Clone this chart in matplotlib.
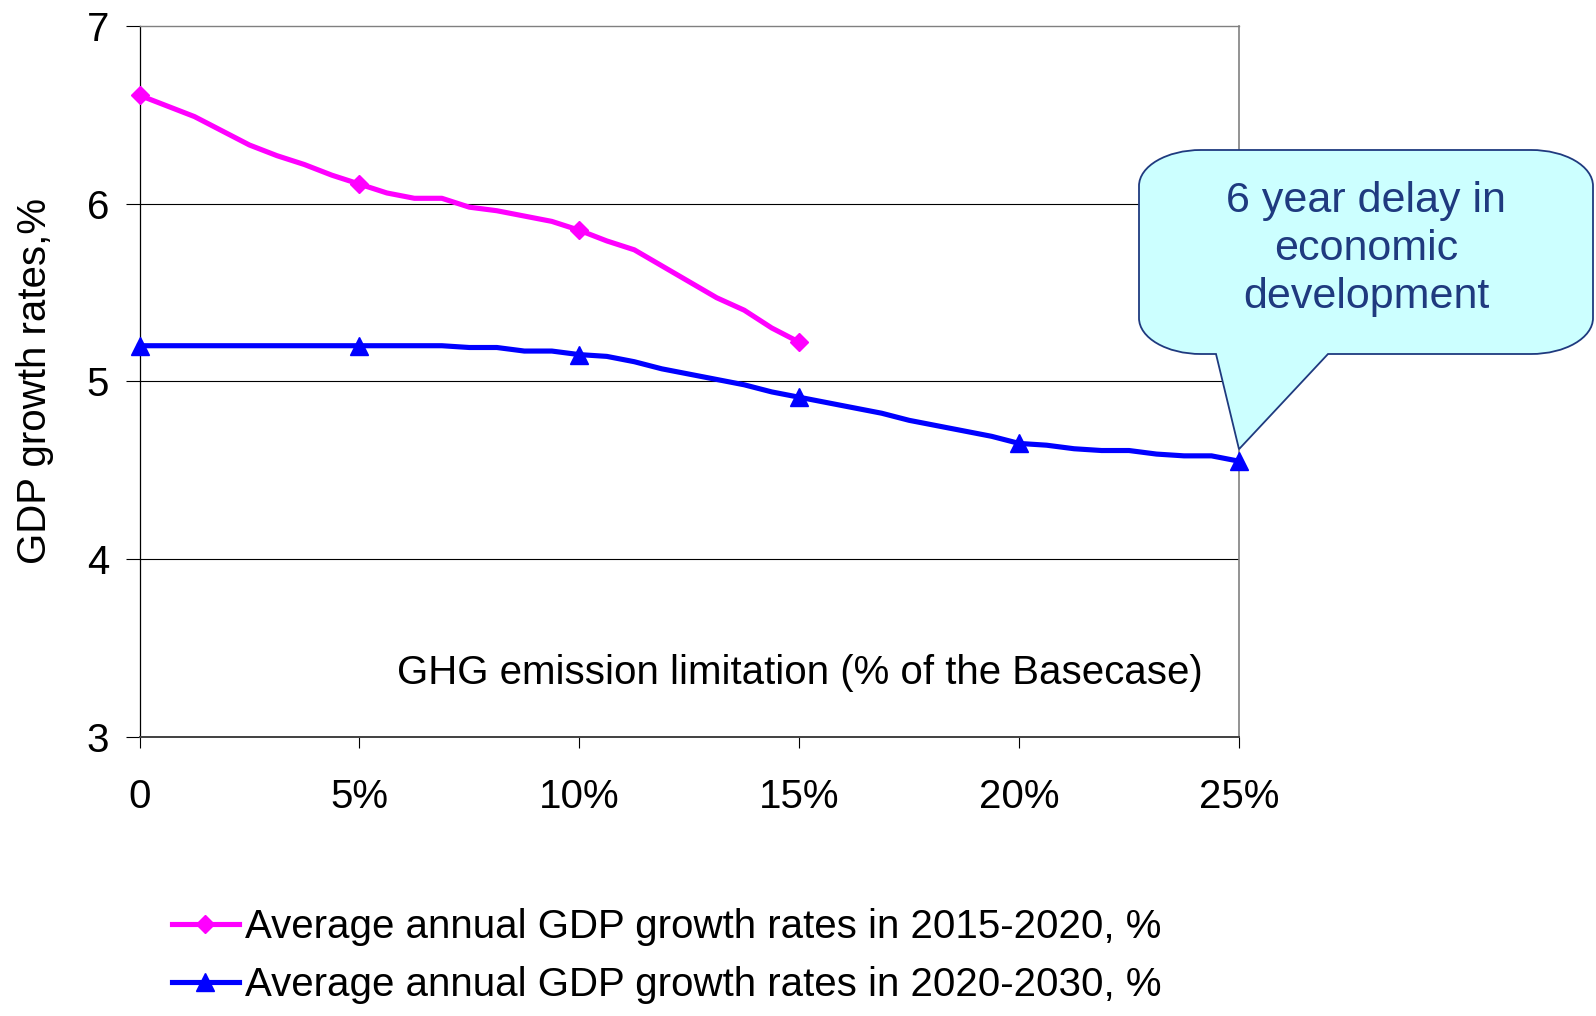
import matplotlib
matplotlib.use("Agg")
import matplotlib.pyplot as plt
from matplotlib.path import Path
from matplotlib.patches import PathPatch
from matplotlib.transforms import IdentityTransform
import numpy as np

plt.rcParams['font.family'] = ['Liberation Sans', 'DejaVu Sans']

# Emission limitation, % of the base case (step 0.625 %)
limit_2015 = [i * 0.625 for i in range(25)]
limit_2020 = [i * 0.625 for i in range(41)]

gdp_2015_2020 = [6.61, 6.55, 6.49, 6.41, 6.33, 6.27, 6.22, 6.16, 6.11,
                 6.06, 6.03, 6.03, 5.98, 5.96, 5.93, 5.90, 5.85,
                 5.79, 5.74, 5.65, 5.56, 5.47, 5.40, 5.30, 5.22]
gdp_2020_2030 = [5.20, 5.20, 5.20, 5.20, 5.20, 5.20, 5.20, 5.20, 5.20, 5.20, 5.20, 5.20,
                 5.19, 5.19, 5.17, 5.17, 5.15,
                 5.14, 5.11, 5.07, 5.04, 5.01, 4.98, 4.94, 4.91,
                 4.88, 4.85, 4.82, 4.78, 4.75, 4.72, 4.69, 4.65,
                 4.64, 4.62, 4.61, 4.61, 4.59, 4.58, 4.58, 4.55]

x_ticks = [0, 5, 10, 15, 20, 25]
x_tick_labels = ["0", "5%", "10%", "15%", "20%", "25%"]
y_ticks = [3, 4, 5, 6, 7]

series_labels = ["Average annual GDP growth rates in 2015-2020, %",
                 "Average annual GDP growth rates in 2020-2030, %"]
x_note = "GHG emission limitation (% of the Basecase)"
y_label = "GDP growth rates,%"
callout_text = "6 year delay in\neconomic\ndevelopment"

W, H = 1596, 1016
fig = plt.figure(figsize=(W / 100, H / 100), dpi=100)
ax = fig.add_axes([139.5 / W, (H - 736.5) / H, (1239 - 139.5) / W, (736.5 - 26) / H])

FS = 29

ax.plot(limit_2015, gdp_2015_2020, color='#FF00FF', lw=3.7, marker='D', ms=9.5,
        markevery=8, clip_on=False, zorder=3, label=series_labels[0])
ax.plot(limit_2020, gdp_2020_2030, color='#0000FF', lw=3.7, marker='^', ms=13.5,
        markevery=8, clip_on=False, zorder=3, label=series_labels[1])

ax.set_xlim(0, 25)
ax.set_ylim(3, 7)
ax.set_xticks(x_ticks)
ax.set_xticklabels(x_tick_labels)
ax.set_yticks(y_ticks)
ax.tick_params(axis='y', direction='out', length=10, width=0.8, pad=12, labelsize=FS)
ax.tick_params(axis='x', direction='out', length=8, width=0.8, pad=22, labelsize=FS)

for yv in y_ticks[1:-1]:
    ax.axhline(yv, color='black', lw=0.8, zorder=1)

ax.spines['left'].set_color('black')
ax.spines['left'].set_linewidth(0.9)
ax.spines['bottom'].set_color('#404040')
ax.spines['bottom'].set_linewidth(1.4)
ax.spines['top'].set_color('#808080')
ax.spines['top'].set_linewidth(1.0)
ax.spines['right'].set_color('#808080')
ax.spines['right'].set_linewidth(1.2)

ax.set_ylabel(y_label, fontsize=FS, labelpad=23)

ax.text(0.6007, 0.0894, x_note, transform=ax.transAxes, fontsize=FS,
        ha='center', va='center')

fig.legend(loc='upper left', bbox_to_anchor=(172 / W, (H - 908) / H),
           frameon=False, fontsize=FS, handlelength=1.66, handletextpad=0.15,
           labelspacing=0.5, borderpad=0, borderaxespad=0, numpoints=1)

# Speech-bubble callout pointing at the last point of the 2020-2030 series
tip_x, tip_y = ax.transData.transform((limit_2020[-1], gdp_2020_2030[-1]))
tip_y += 12
L, R, T, B = 1139, 1593, H - 150, H - 354
rx, ry = 62, 36
k = 0.5523
bx0, bx1 = 1216, 1328
verts = [
    (L + rx, T), (R - rx, T),
    (R - rx + k * rx, T), (R, T - ry + k * ry), (R, T - ry),
    (R, B + ry),
    (R, B + ry - k * ry), (R - rx + k * rx, B), (R - rx, B),
    (bx1, B), (tip_x, tip_y), (bx0, B),
    (L + rx, B),
    (L + rx - k * rx, B), (L, B + ry - k * ry), (L, B + ry),
    (L, T - ry),
    (L, T - ry + k * ry), (L + rx - k * rx, T), (L + rx, T),
    (L + rx, T),
]
codes = [Path.MOVETO, Path.LINETO,
         Path.CURVE4, Path.CURVE4, Path.CURVE4,
         Path.LINETO,
         Path.CURVE4, Path.CURVE4, Path.CURVE4,
         Path.LINETO, Path.LINETO, Path.LINETO,
         Path.LINETO,
         Path.CURVE4, Path.CURVE4, Path.CURVE4,
         Path.LINETO,
         Path.CURVE4, Path.CURVE4, Path.CURVE4,
         Path.CLOSEPOLY]
bubble = PathPatch(Path(verts, codes), facecolor='#CCFFFF', edgecolor='#1F3A7F',
                   lw=1.3, transform=IdentityTransform(), zorder=5)
fig.add_artist(bubble)
fig.text(1366 / W, (H - 249) / H, callout_text, fontsize=31, color='#1F3A7F',
         ha='center', va='center', linespacing=1.255, zorder=6)

fig.savefig("out.png", dpi=100)
